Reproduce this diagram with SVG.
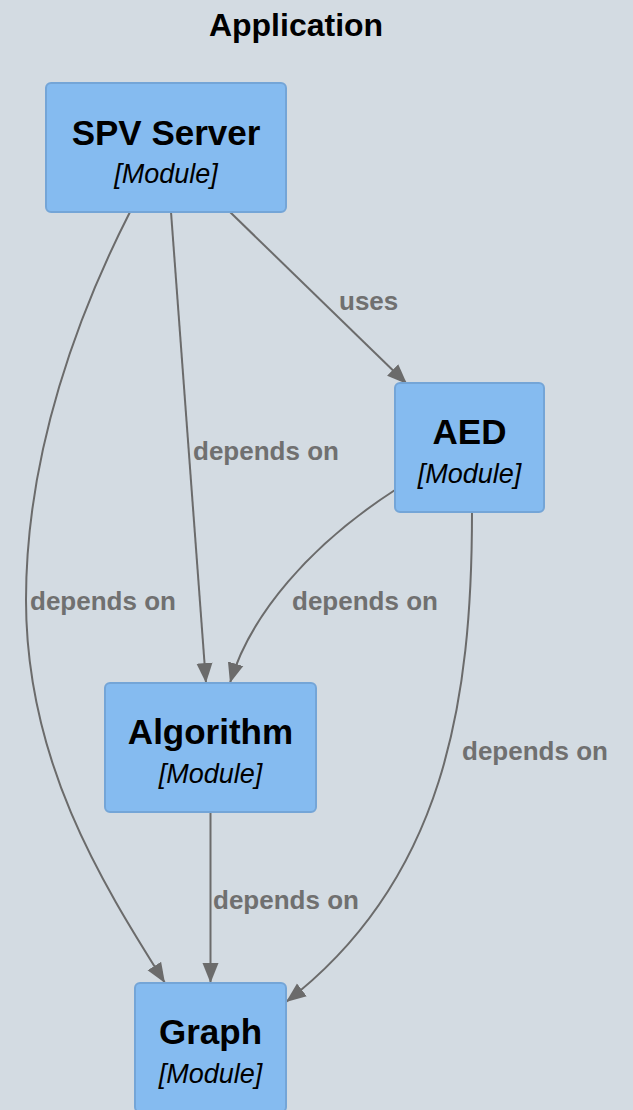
<svg xmlns="http://www.w3.org/2000/svg" width="633" height="1110" viewBox="0 0 633 1110">
  <style>
    .title { font-family: "Liberation Sans", Arial, sans-serif; font-weight: bold; font-size: 32px; fill: #000; text-anchor: middle; }
    .node rect { fill: #85bbf0; stroke: #74a5d7; stroke-width: 2; }
    .name { font-family: "Liberation Sans", Arial, sans-serif; font-weight: bold; font-size: 35px; fill: #000; text-anchor: middle; }
    .kind { font-family: "Liberation Sans", Arial, sans-serif; font-style: italic; font-size: 27px; fill: #000; text-anchor: middle; }
    .edge { fill: none; stroke: #6b6b6b; stroke-width: 2; marker-end: url(#arrow); }
    .label { font-family: "Liberation Sans", Arial, sans-serif; font-weight: bold; font-size: 26px; fill: #707070; }
  </style>
  <defs>
    <marker id="arrow" markerUnits="userSpaceOnUse" markerWidth="22" markerHeight="18" refX="20" refY="8" orient="auto" viewBox="0 0 22 16">
      <path d="M0,0 L20,8 L0,16 Z" fill="#6b6b6b"/>
    </marker>
  </defs>

  <rect x="0" y="0" width="633" height="1110" fill="#d3dbe2"/>

  <text class="title" x="296" y="36">Application</text>

  <!-- connectors -->
  <g id="edges">
    <path class="edge" d="M230,212 L407,384"/>
    <path class="edge" d="M171,212 L206,683"/>
    <path class="edge" d="M130,212 C80,310 26,450 26,600 C26,760 100,880 165,983"/>
    <path class="edge" d="M395,490 C310,545 250,615 230,683"/>
    <path class="edge" d="M472,512 C472,700 445,880 286,1002"/>
    <path class="edge" d="M210.5,812 L210.5,983"/>
    <text class="label" x="339" y="310">uses</text>
    <text class="label" x="193" y="460">depends on</text>
    <text class="label" x="30" y="610">depends on</text>
    <text class="label" x="292" y="610">depends on</text>
    <text class="label" x="462" y="760">depends on</text>
    <text class="label" x="213" y="909">depends on</text>
  </g>

  <!-- modules -->
  <g id="spv-server" class="node">
    <rect x="46" y="83" width="240" height="129" rx="5"/>
    <text class="name" x="166" y="145">SPV Server</text>
    <text class="kind" x="166" y="183">[Module]</text>
  </g>
  <g id="aed" class="node">
    <rect x="395" y="383" width="149" height="129" rx="5"/>
    <text class="name" x="469.5" y="444">AED</text>
    <text class="kind" x="469.5" y="483">[Module]</text>
  </g>
  <g id="algorithm" class="node">
    <rect x="105" y="683" width="211" height="129" rx="5"/>
    <text class="name" x="210.5" y="744">Algorithm</text>
    <text class="kind" x="210.5" y="783">[Module]</text>
  </g>
  <g id="graph" class="node">
    <rect x="135" y="983" width="151" height="129" rx="5"/>
    <text class="name" x="210.5" y="1044">Graph</text>
    <text class="kind" x="210.5" y="1083">[Module]</text>
  </g>
</svg>
